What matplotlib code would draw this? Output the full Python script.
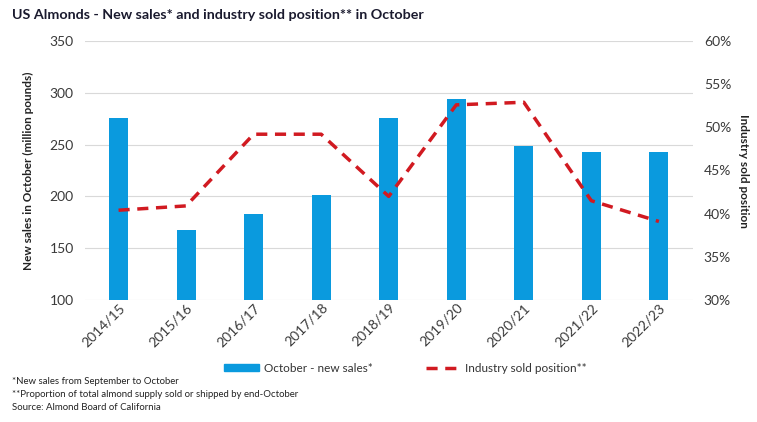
import matplotlib.pyplot as plt
from matplotlib.patches import Patch
from matplotlib.lines import Line2D
from matplotlib.transforms import ScaledTranslation

seasons = ['2014/15', '2015/16', '2016/17', '2017/18', '2018/19',
           '2019/20', '2020/21', '2021/22', '2022/23']
new_sales = [276, 168, 183, 201, 276, 294, 249, 243, 243]
sold_position = [40.4, 40.9, 49.2, 49.2, 42.0, 52.6, 52.9, 41.5, 39.1]

blue = '#0a9ade'
red = '#d11a21'
grey = '#3a3a3a'


def main():
    plt.rcParams['font.family'] = ['Lato', 'DejaVu Sans']
    fig = plt.figure(figsize=(7.57, 4.22), dpi=100)
    ax = fig.add_axes([0.112, 0.289, 0.803, 0.614])
    ax2 = ax.twinx()

    x = list(range(len(seasons)))
    ax.bar(x, new_sales, width=0.28, color=blue, zorder=2)
    ax.set_ylim(100, 350)
    ax.set_yticks(range(100, 351, 50))
    ax.set_xlim(-0.5, len(seasons) - 0.5)
    ax.set_xticks(x)
    ax.set_xticklabels(seasons, rotation=45, ha='right', rotation_mode='anchor',
                       fontsize=9, color=grey)
    # nudge rotated labels so their ends sit a little right of the tick
    shift = ScaledTranslation(6 / 100, 0, fig.dpi_scale_trans)
    for lab in ax.get_xticklabels():
        lab.set_transform(lab.get_transform() + shift)
    ax.grid(axis='y', color='#d9d9d9', linewidth=0.8, zorder=0)
    ax.set_axisbelow(True)

    ax2.plot(x, sold_position, color=red, linewidth=2.5, dashes=(3.2, 2.2), zorder=3)
    ax2.set_ylim(30, 60)
    ax2.set_yticks(range(30, 61, 5))
    ax2.set_yticklabels([f'{v}%' for v in range(30, 61, 5)])

    for a in (ax, ax2):
        for s in a.spines.values():
            s.set_visible(False)
        a.tick_params(length=0, labelsize=10, labelcolor=grey)
    ax.tick_params(axis='y', pad=8)
    ax.tick_params(axis='x', pad=1)
    ax2.tick_params(axis='y', pad=8)

    ax.set_ylabel('New sales in October (million pounds)', fontsize=8.5,
                  fontweight='bold', color='#222222', labelpad=11)
    ax2.set_ylabel('Industry sold position', fontsize=8.5, fontweight='bold',
                   color='#222222', rotation=270, labelpad=13)

    handles = [Patch(color=blue), Line2D([0], [0], color=red, linewidth=2.5, dashes=(3.2, 2.2))]
    fig.legend(handles, ['October - new sales*', 'Industry sold position**'],
               loc='center', bbox_to_anchor=(0.536, 0.127), ncol=2, frameon=False,
               fontsize=8.5, handlelength=2.9, handleheight=0.55, handletextpad=0.45,
               columnspacing=4.5, labelcolor='#333333')

    fig.text(0.016, 0.965, 'US Almonds - New sales* and industry sold position** in October',
             fontsize=10.3, fontweight='bold', color='#1a1a2e', va='center')
    notes = ['*New sales from September to October',
             '**Proportion of total almond supply sold or shipped by end-October',
             'Source: Almond Board of California']
    for i, n in enumerate(notes):
        fig.text(0.016, 0.097 - i * 0.031, n, fontsize=6.9, color='#222222', va='center')

    fig.savefig('out.png', dpi=100)


if __name__ == '__main__':
    main()
